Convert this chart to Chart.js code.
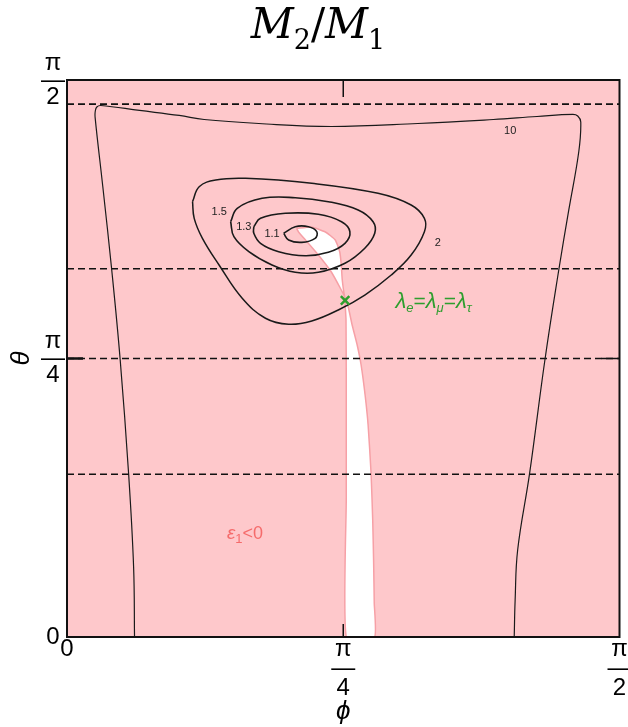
<!DOCTYPE html>
<html>
<head>
<meta charset="utf-8">
<script src="https://cdn.jsdelivr.net/npm/chart.js@4.4.0/dist/chart.umd.min.js"></script>
<style>
  html, body { margin: 0; padding: 0; background: #fff; }
</style>
</head>
<body>
<canvas id="massChart" width="628" height="727"></canvas>
<script>
// axes run in degrees, 0..90 (= 0..pi/2)
const tickValues = [0, 45, 90];
const xTickLabels = ["0", ["π", "—", "4"], ["π", "—", "2"]];
const yTickLabels = ["0", ["π", "—", "4"], ["π", "—", "2"]];
const dashedLevels = [86.1, 59.5, 45, 26.3];

// M2/M1 = 10, open at the bottom edge
const c10X = [11.0, 10.85, 10.04, 8.66, 7.28, 5.83, 4.58, 4.61, 4.86, 5.5, 11.82, 18.29, 22.34, 31.24, 43.06, 57.14, 69.44, 76.56, 82.39, 83.2, 83.69, 83.36, 81.74, 80.12, 77.86, 75.35, 73.41, 73.0, 72.85];
const c10Y = [0, 11.31, 26.34, 44.84, 59.38, 72.79, 83.97, 84.99, 85.64, 85.88, 85.08, 84.27, 83.62, 82.97, 82.49, 82.97, 83.62, 84.1, 84.43, 84.18, 83.21, 78.37, 69.0, 59.38, 44.84, 26.39, 14.06, 5.98, 0];

// M2/M1 = 2
const c2X = [20.45, 21.53, 24.23, 29.09, 39.87, 50.67, 56.06, 58.22, 58.22, 56.06, 52.82, 48.51, 44.19, 39.87, 36.1, 32.33, 28.54, 24.77, 22.06, 20.72];
const c2Y = [70.34, 72.76, 73.84, 74.11, 73.31, 71.69, 69.8, 67.65, 65.49, 61.72, 58.49, 55.26, 52.84, 51.06, 50.53, 51.5, 54.73, 60.11, 64.42, 67.65];

// M2/M1 = 1.5
const c15X = [26.66, 27.73, 31.78, 37.18, 42.57, 47.43, 49.86, 50.13, 48.51, 45.28, 40.95, 37.18, 33.39, 29.62, 27.19];
const c15Y = [67.1, 69.27, 70.88, 70.98, 70.34, 69.0, 67.1, 65.23, 62.81, 60.38, 58.93, 58.93, 60.11, 62.26, 64.68];

// M2/M1 = 1.3
const c13X = [30.43, 31.52, 35.56, 40.95, 44.72, 46.08, 45.28, 42.57, 38.8, 34.48, 31.52, 30.43];
const c13Y = [66.3, 67.65, 68.46, 68.3, 67.1, 65.49, 63.61, 62.16, 61.61, 62.26, 63.61, 65.23];

// M2/M1 = 1.1
const c11X = [35.29, 37.18, 39.33, 40.68, 40.42, 38.25, 36.1];
const c11Y = [65.23, 66.3, 66.3, 65.49, 64.42, 63.77, 64.15];

const contourNames = ["10", "2", "1.5", "1.3", "1.1"];
const contourLabelX = [72.2, 60.4, 24.8, 28.8, 33.4];
const contourLabelY = [81.8, 63.7, 68.7, 66.3, 65.2];

// region where epsilon1 >= 0 (white); the rest is epsilon1 < 0
const posX = [37.39, 39.82, 42.09, 43.7, 44.43, 44.68, 44.84, 45.24, 45.81, 46.45, 47.27, 47.91, 48.56, 49.05, 49.53, 49.8, 49.95, 50.05, 50.1, 45.49, 45.49, 45.49, 45.45, 45.32, 45.24, 44.51, 43.06, 40.95, 38.85, 37.72];
const posY = [66.01, 66.25, 65.44, 64.15, 62.21, 60.11, 57.68, 54.94, 53.32, 50.41, 47.18, 43.95, 39.1, 34.25, 26.5, 18.9, 12.0, 5.5, 0, 0, 22.14, 41.53, 51.22, 53.64, 54.94, 56.39, 58.98, 61.72, 64.15, 65.44];

// lambda_e = lambda_mu = lambda_tau point
const crossX = [45.3];
const crossY = [54.4];
const crossLabelX = 59.7;
const crossLabelY = 54.4;
const negLabelX = 29.0;
const negLabelY = 17.0;

function toPoints(xs, ys, close) {
  const pts = xs.map((x, i) => ({ x: x, y: ys[i] }));
  if (close) pts.push({ x: xs[0], y: ys[0] });
  return pts;
}

function contour(xs, ys, close, width) {
  return {
    data: toPoints(xs, ys, close),
    borderColor: "#1a1a1a",
    borderWidth: width,
    tension: 0.4,
    fill: false,
    pointRadius: 0,
    order: 2,
  };
}

// draws a run of text pieces (for sub/superscripts), centred on cx
function drawRuns(ctx, runs, cx, cy, color) {
  let total = 0;
  runs.forEach((r) => {
    ctx.font = r.font;
    r.w = ctx.measureText(r.t).width;
    total += r.w;
  });
  let x = cx - total / 2;
  ctx.fillStyle = color;
  ctx.textAlign = "left";
  ctx.textBaseline = "alphabetic";
  runs.forEach((r) => {
    ctx.font = r.font;
    ctx.fillText(r.t, x, cy + r.dy);
    x += r.w;
  });
}

const plotDecor = {
  id: "plotDecor",
  beforeDatasetsDraw(chart) {
    const { ctx, chartArea: a } = chart;
    ctx.save();
    ctx.fillStyle = "#fec8cb";
    ctx.fillRect(a.left, a.top, a.right - a.left, a.bottom - a.top);

    // title M2/M1
    const m = "italic 42px 'DejaVu Serif', serif";
    const s = "27px 'DejaVu Serif', serif";
    const sl = "42px 'DejaVu Serif', serif";
    drawRuns(ctx, [
      { t: "M", font: m, dy: 0 }, { t: "2", font: s, dy: 11 },
      { t: "/", font: sl, dy: 0 },
      { t: "M", font: m, dy: 0 }, { t: "1", font: s, dy: 11 },
    ], 318, 38, "#000");
    ctx.restore();
  },
  afterDatasetsDraw(chart) {
    const { ctx, chartArea: a, scales } = chart;
    const xs = scales.x;
    const ys = scales.y;
    ctx.save();
    // frame
    ctx.strokeStyle = "#111";
    ctx.lineWidth = 2;
    ctx.setLineDash([]);
    ctx.strokeRect(a.left, a.top, a.right - a.left, a.bottom - a.top);
    // inner tick marks at pi/4
    const mx = xs.getPixelForValue(45);
    const my = ys.getPixelForValue(45);
    ctx.fillStyle = "#111";
    ctx.fillRect(mx - 0.75, a.top, 1.5, 17);
    ctx.fillRect(mx - 0.75, a.bottom - 13, 1.5, 13);
    ctx.fillRect(a.right - 18, my - 0.75, 18, 1.5);
    ctx.fillRect(a.left, my - 1.25, 16, 2.5);

    // contour level labels
    ctx.fillStyle = "#222";
    ctx.font = "11px 'Liberation Sans', Arial, sans-serif";
    ctx.textAlign = "center";
    ctx.textBaseline = "middle";
    contourNames.forEach((name, i) => {
      ctx.fillText(name, xs.getPixelForValue(contourLabelX[i]), ys.getPixelForValue(contourLabelY[i]));
    });

    const big = "italic 22px 'Liberation Sans', Arial, sans-serif";
    const sub = "italic 13px 'Liberation Sans', Arial, sans-serif";
    const up = "21px 'Liberation Sans', Arial, sans-serif";
    drawRuns(ctx, [
      { t: "λ", font: big, dy: 0 }, { t: "e", font: sub, dy: 4 },
      { t: "=", font: up, dy: 0 },
      { t: "λ", font: big, dy: 0 }, { t: "μ", font: sub, dy: 4 },
      { t: "=", font: up, dy: 0 },
      { t: "λ", font: big, dy: 0 }, { t: "τ", font: sub, dy: 4 },
    ], xs.getPixelForValue(crossLabelX), ys.getPixelForValue(crossLabelY) + 8, "#2e9e2e");

    drawRuns(ctx, [
      { t: "ε", font: "italic 19px 'Liberation Sans', Arial, sans-serif", dy: 0 },
      { t: "1", font: "13px 'Liberation Sans', Arial, sans-serif", dy: 4 },
      { t: "<0", font: "18px 'Liberation Sans', Arial, sans-serif", dy: 0 },
    ], xs.getPixelForValue(negLabelX), ys.getPixelForValue(negLabelY) + 7, "#f56b6b");
    ctx.restore();
  },
};

const datasets = [];
datasets.push({
  data: toPoints(posX, posY, true),
  fill: "shape",
  backgroundColor: "#ffffff",
  borderColor: "#f6a0a6",
  borderWidth: 1.5,
  tension: 0.15,
  pointRadius: 0,
  order: 10,
});
dashedLevels.forEach((lv) => {
  datasets.push({
    data: [{ x: 0, y: lv }, { x: 90, y: lv }],
    borderColor: "#111",
    borderWidth: 1.6,
    borderDash: [7, 4],
    pointRadius: 0,
    fill: false,
    order: 5,
  });
});
datasets.push(contour(c10X, c10Y, false, 1.2));
datasets.push(contour(c2X, c2Y, true, 1.5));
datasets.push(contour(c15X, c15Y, true, 1.6));
datasets.push(contour(c13X, c13Y, true, 1.6));
datasets.push(contour(c11X, c11Y, true, 1.6));
datasets.push({
  data: toPoints(crossX, crossY, false),
  showLine: false,
  pointStyle: "crossRot",
  pointRadius: 6,
  pointBorderColor: "#2e9e2e",
  borderColor: "#2e9e2e",
  pointBorderWidth: 2.5,
  order: 1,
});

const ctxM = document.getElementById("massChart");
new Chart(ctxM, {
  type: "line",
  data: { datasets: datasets },
  plugins: [plotDecor],
  options: {
    responsive: false,
    animation: false,
    events: [],
    layout: { padding: { top: 80, right: 5, left: 0, bottom: 0 } },
    plugins: {
      legend: { display: false },
      tooltip: { enabled: false },
      title: { display: false },
    },
    scales: {
      x: {
        type: "linear",
        min: 0,
        max: 90,
        afterBuildTicks: (scale) => { scale.ticks = tickValues.map((v) => ({ value: v })); },
        afterFit: (scale) => { scale.height = 90; scale.paddingLeft = 0; scale.paddingRight = 0; },
        grid: { display: false, drawTicks: false },
        border: { display: false },
        ticks: {
          padding: 3,
          maxRotation: 0,
          autoSkip: false,
          color: "#000",
          font: { family: "'Liberation Sans', Arial, sans-serif", size: 24, lineHeight: 0.8 },
          callback: (value, index) => xTickLabels[index],
        },
        title: {
          display: true,
          text: "ϕ",
          color: "#000",
          padding: { top: 0, bottom: 0 },
          font: { family: "'Liberation Sans', Arial, sans-serif", size: 26, style: "italic" },
        },
      },
      y: {
        type: "linear",
        min: 0,
        max: 90,
        afterBuildTicks: (scale) => { scale.ticks = tickValues.map((v) => ({ value: v })); },
        afterFit: (scale) => { scale.width = 67; scale.paddingTop = 0; scale.paddingBottom = 0; },
        grid: { display: false, drawTicks: false },
        border: { display: false },
        ticks: {
          padding: 2,
          crossAlign: "center",
          autoSkip: false,
          color: "#000",
          font: { family: "'Liberation Sans', Arial, sans-serif", size: 24, lineHeight: 0.71 },
          callback: (value, index) => yTickLabels[index],
        },
        title: {
          display: true,
          text: "θ",
          color: "#000",
          padding: { top: 6, bottom: 0 },
          font: { family: "'Liberation Sans', Arial, sans-serif", size: 26, style: "italic" },
        },
      },
    },
  },
});
</script>
</body>
</html>
